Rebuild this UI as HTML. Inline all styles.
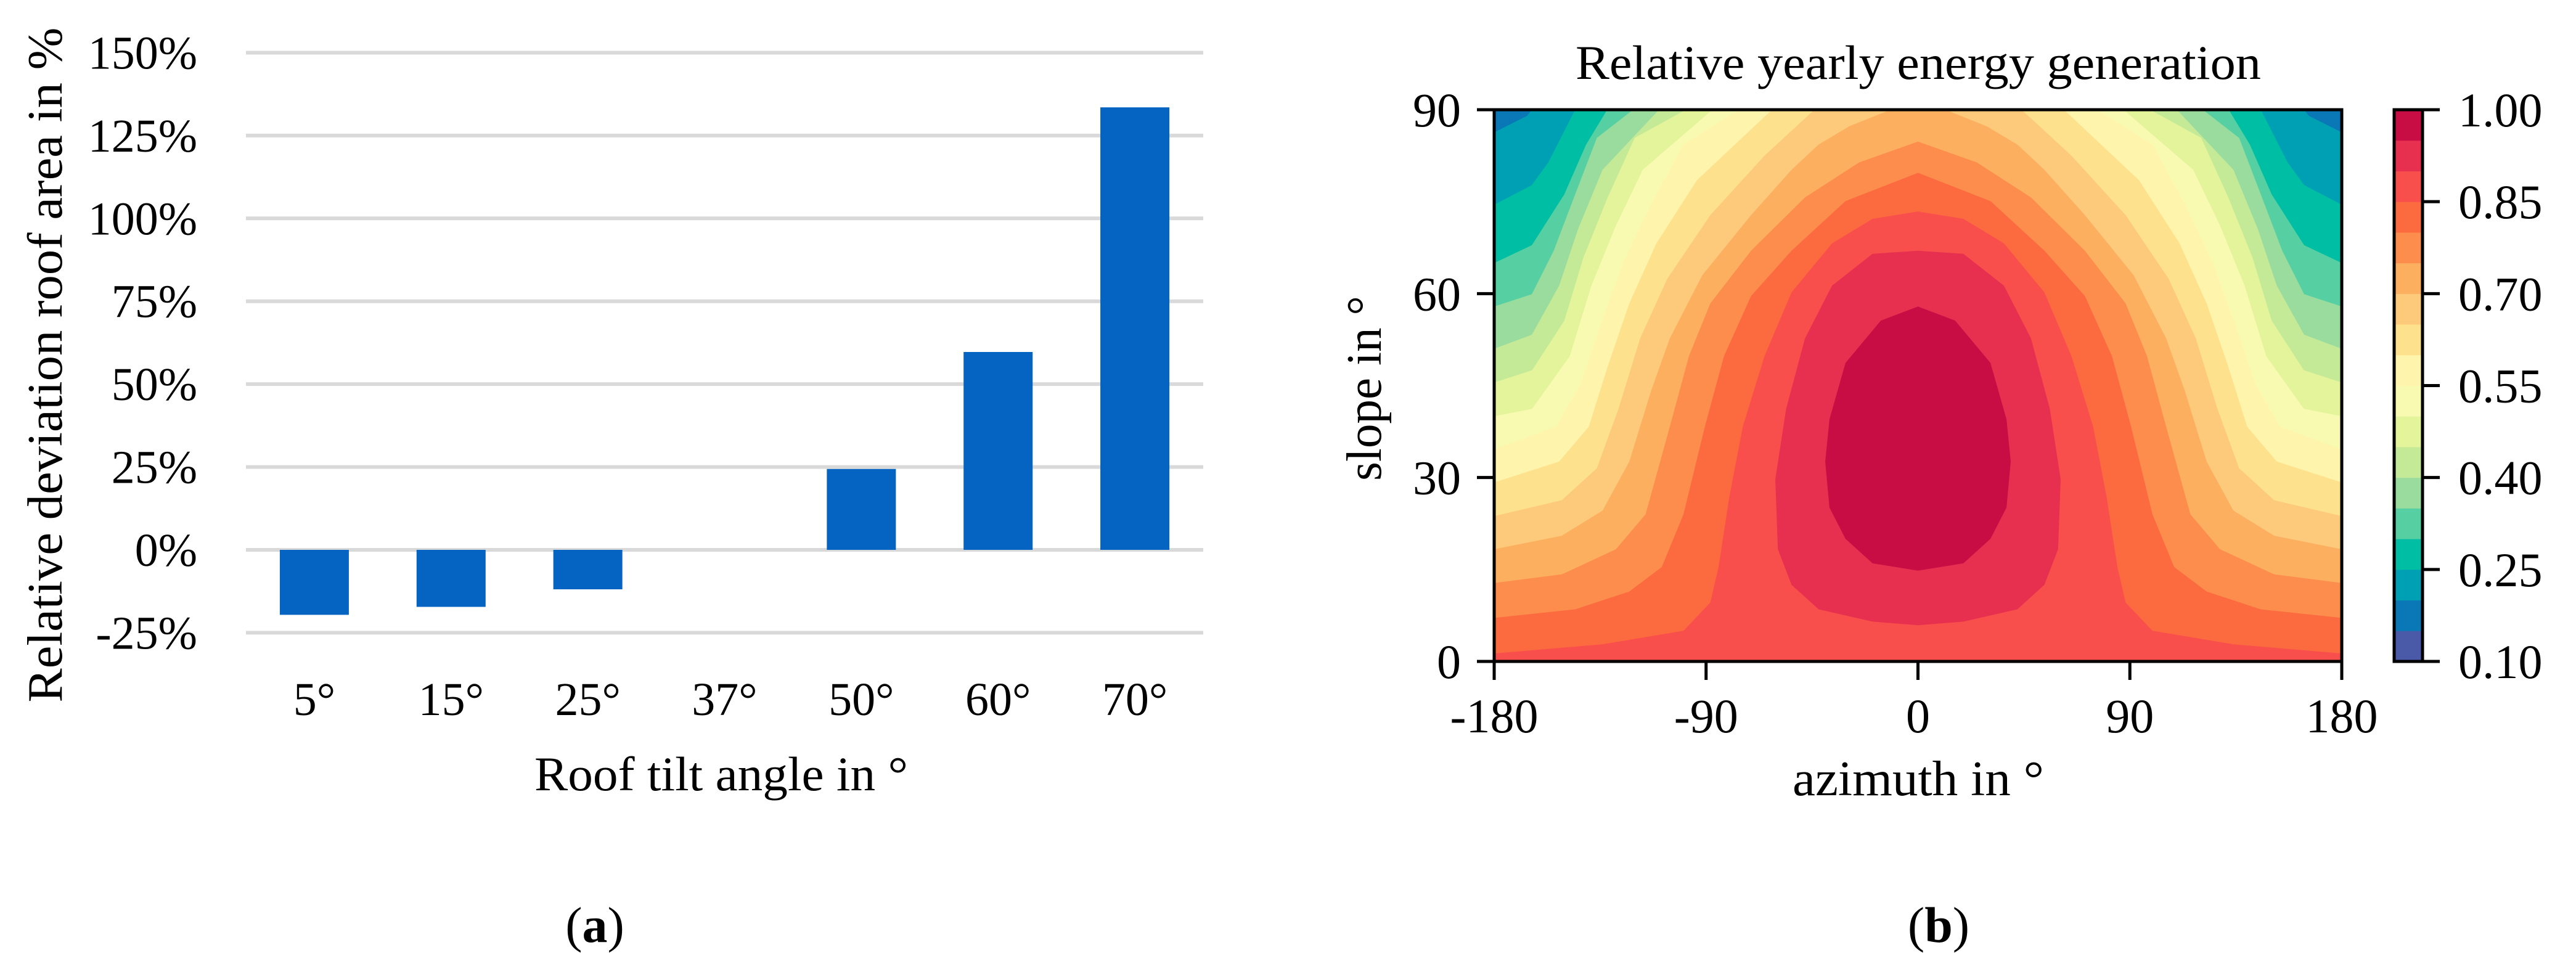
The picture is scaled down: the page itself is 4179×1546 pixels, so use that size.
<!DOCTYPE html>
<html><head><meta charset="utf-8"><style>
html,body{margin:0;padding:0;background:#fff;}
svg{display:block;font-family:"Liberation Serif",serif;}
</style></head><body>
<svg id="root" width="4179" height="1546" viewBox="0 0 4179 1546" xmlns="http://www.w3.org/2000/svg">
<rect width="4179" height="1546" fill="#fff"/>
<g id="barChart"></g>
<g id="contourChart"></g>
<text x="965" y="1528" font-size="82" text-anchor="middle">(<tspan font-weight="bold">a</tspan>)</text>
<text x="3145" y="1528" font-size="82" text-anchor="middle">(<tspan font-weight="bold">b</tspan>)</text>
</svg>
<script>
// ---------- Bar chart data ----------
const barCategories = ["5°","15°","25°","37°","50°","60°","70°"];
const barValues = [-19.6,-17.2,-11.9,0,24.4,59.7,133.5];
const barTicks = [-25,0,25,50,75,100,125,150];
const barTickLabels = ["-25%","0%","25%","50%","75%","100%","125%","150%"];

// ---------- Contour chart data ----------
const contourLevels = [0.2,0.25,0.3,0.35,0.4,0.45,0.5,0.55,0.6,0.65,0.7,0.75,0.8,0.85];
// left-half contour lines as [azimuth, slope] pairs (mirrored for right half)
const contour020 = [[-180,86.3],[-166,89],[-164,90]];
const contour025 = [[-180,74.5],[-164,77.7],[-157,81.4],[-145.6,90]];
const contour030 = [[-180,65],[-164,67.9],[-150.2,76.2],[-141,84.3],[-132,90]];
const contour035 = [[-180,57.9],[-164,59.9],[-154.7,67],[-145.6,76.2],[-136.4,85.4],[-121,90]];
const contour040 = [[-180,51],[-164,53.3],[-152.4,61.3],[-144.4,70.5],[-134,80.2],[-110,90]];
const contour045 = [[-180,45.5],[-163.9,47.5],[-150.2,55.6],[-142.1,65.9],[-131.8,75.7],[-120.3,85.4],[-98.6,90]];
const contour050 = [[-180,40],[-163.9,41.2],[-147.9,49.8],[-138.7,61.3],[-128.3,71.1],[-116.9,80.2],[-87.3,90]];
const contour055 = [[-180,34.6],[-153.6,38.3],[-143.3,45.2],[-134.1,55.6],[-124.9,65.3],[-113.4,74.5],[-99.6,84.3],[-76,90]];
const contour060 = [[-180,29.2],[-152.4,32.6],[-139.8,38.3],[-131.8,48.1],[-122.6,58.4],[-111.1,68.2],[-93.9,78.5],[-62,90]];
const contour065 = [[-180,23.7],[-151.3,26.3],[-136.4,31.5],[-127.2,41.2],[-118,52.7],[-106.5,62.4],[-88.2,72.8],[-65.2,82.5],[-44,90]];
const contour070 = [[-180,18.3],[-151.3,20.5],[-134,24.6],[-122.6,32.6],[-113.4,44.1],[-105.4,52.7],[-91.6,63],[-70.9,72.8],[-53.7,80.2],[-42.3,84.3],[-29.2,87.3],[-11.6,90]];
const contour075 = [[-180,12.8],[-151.3,14.2],[-128.3,18.3],[-115.7,24],[-105.4,38.3],[-97.3,49.8],[-88.2,58.4],[-70.9,67],[-48,75.7],[-25,81.4],[0,84.8]];
const contour080 = [[-180,7.1],[-145.6,8.5],[-122.6,11.4],[-108.8,15.4],[-99.6,24],[-90.5,38.3],[-82.4,49.8],[-70.9,59.6],[-53.7,67],[-30.8,75.1],[0,79.7]];
const contour085 = [[-180,1.3],[-134,2.8],[-99.6,5],[-88.2,9.6],[-84.7,15.4],[-80.1,26.9],[-74.4,38.3],[-65.2,49.8],[-53.7,60.2],[-36.5,68.2],[-19.3,72.2],[0,73.4]];
// closed contours (left half from top-centre to bottom-centre)
const contour090 = [[0,67],[-19.3,66.5],[-36.5,61.3],[-48,52.7],[-56,41.2],[-60.6,29.7],[-59.5,18.3],[-53.7,12.5],[-42.2,8.5],[-19.3,6.5],[0,5.9]];
const contour095 = [[0,57.9],[-15.8,55.6],[-30.8,48.7],[-37.6,39.5],[-39.4,32.6],[-37.6,25.1],[-30.8,20],[-19.3,16],[0,14.8]];
const xTicks = [-180,-90,0,90,180];
const yTicks = [0,30,60,90];
const cbTicks = [0.10,0.25,0.40,0.55,0.70,0.85,1.00];
const cbTickLabels = ["0.10","0.25","0.40","0.55","0.70","0.85","1.00"];
const bandColors = ["#4a5aa9","#0a78b6","#00a0b4","#00bea3","#56d0a2","#9adc9e","#c4ea98","#e4f49b","#f8fab2","#fff4ab","#fee18d","#fdc97a","#fdaf60","#fd8d4d","#fc6a3f","#f84f4c","#e7304f","#c80d44"];

const NS="http://www.w3.org/2000/svg";
function mk(tag, attrs, parent){const e=document.createElementNS(NS,tag);for(const k in attrs)e.setAttribute(k,attrs[k]);parent.appendChild(e);return e;}

// ---------- Bar chart ----------
(function(){
  const g=document.getElementById('barChart');
  const x0=399,x1=1952,band=(x1-x0)/barCategories.length,barW=112;
  const yv=v=>892-v*5.377;
  barTicks.forEach((t,i)=>{
    const l=mk('line',{x1:x0,x2:x1,y1:yv(t),y2:yv(t),stroke:'#d9d9d9','stroke-width':6},g);
    
    
    const tx=mk('text',{x:320,y:yv(t)+26,'font-size':76,'text-anchor':'end'},g);
    tx.textContent=barTickLabels[i];
    
    
  });
  barCategories.forEach((c,i)=>{
    const cx=x0+band*(i+0.5),v=barValues[i];
    if(v!==0){
      const r=mk('rect',{x:cx-barW/2,y:Math.min(yv(v),yv(0)),width:barW,height:Math.abs(yv(v)-yv(0)),fill:'#0563c1'},g);
      
      
    }
    const t=mk('text',{x:cx,y:1160,'font-size':76,'text-anchor':'middle'},g);
    t.textContent=c;
    
    
  });
  const xt=mk('text',{x:1170,y:1282,'font-size':78,'text-anchor':'middle',textLength:606,lengthAdjust:'spacingAndGlyphs'},g);
  xt.textContent='Roof tilt angle in °';
  
  
  const yt=mk('text',{x:0,y:0,'font-size':80,'text-anchor':'middle',transform:'translate(100,592) rotate(-90)',textLength:1095,lengthAdjust:'spacingAndGlyphs'},g);
  yt.textContent='Relative deviation roof area in %';
  
  
})();

// ---------- Contour chart ----------
(function(){
  const g=document.getElementById('contourChart');
  const L=2424,R=3799,T=178,B=1073;
  const xs=az=>L+(az+180)/360*(R-L);
  const ys=s=>B-s/90*(B-T);
  const defs=mk('defs',{},g);
  const cp=mk('clipPath',{id:'plotClip'},defs);
  mk('rect',{x:L,y:T,width:R-L,height:B-T},cp);
  const cg=mk('g',{'clip-path':'url(#plotClip)'},g);
  const base=mk('rect',{x:L,y:T,width:R-L,height:B-T,fill:bandColors[1]},cg);
  
  
  const openLines=[contour020,contour025,contour030,contour035,contour040,contour045,contour050,contour055,contour060,contour065,contour070,contour075,contour080,contour085];
  const toPts=arr=>arr.map(p=>xs(p[0]).toFixed(1)+','+ys(p[1]).toFixed(1)).join(' ');
  openLines.forEach((line,i)=>{
    const mirror=line.slice().reverse().map(p=>[-p[0],p[1]]);
    const pts=line.concat(mirror,[[180,-2],[-180,-2]]);
    const p=mk('polygon',{points:toPts(pts),fill:bandColors[i+2]},cg);
    
    
  });
  [[contour090,16,'0.9'],[contour095,17,'0.95']].forEach(([line,ci,lv])=>{
    const mirror=line.slice().reverse().map(p=>[-p[0],p[1]]);
    const p=mk('polygon',{points:toPts(line.concat(mirror)),fill:bandColors[ci]},cg);
    
    
  });
  const fr=mk('rect',{x:L,y:T,width:R-L,height:B-T,fill:'none',stroke:'#000','stroke-width':5},g);
  
  
  xTicks.forEach(t=>{
    const l=mk('line',{x1:xs(t),x2:xs(t),y1:B,y2:B+30,stroke:'#000','stroke-width':5},g);
    
    
    const tx=mk('text',{x:xs(t),y:1188,'font-size':78,'text-anchor':'middle'},g);
    tx.textContent=String(t);
    
    
  });
  yTicks.forEach(t=>{
    const l=mk('line',{x1:L-28,x2:L,y1:ys(t),y2:ys(t),stroke:'#000','stroke-width':5},g);
    
    
    const tx=mk('text',{x:2370,y:ys(t)+27,'font-size':78,'text-anchor':'end'},g);
    tx.textContent=String(t);
    
    
  });
  const tt=mk('text',{x:3112,y:128,'font-size':78,'text-anchor':'middle',textLength:1112,lengthAdjust:'spacingAndGlyphs'},g);
  tt.textContent='Relative yearly energy generation';
  
  
  const xt=mk('text',{x:3112,y:1290,'font-size':80,'text-anchor':'middle',textLength:408,lengthAdjust:'spacingAndGlyphs'},g);
  xt.textContent='azimuth in °';
  
  
  const yt=mk('text',{x:0,y:0,'font-size':80,'text-anchor':'middle',transform:'translate(2240,630) rotate(-90)',textLength:300,lengthAdjust:'spacingAndGlyphs'},g);
  yt.textContent='slope in °';
  
  
  // colorbar
  const cx0=3884,cx1=3930;
  const cy=v=>B-(v-0.1)/0.9*(B-T);
  bandColors.forEach((c,i)=>{
    const lo=0.1+i*0.05,hi=lo+0.05;
    const r=mk('rect',{x:cx0,y:cy(hi),width:cx1-cx0,height:cy(lo)-cy(hi)+0.5,fill:c},g);
    
    
  });
  const cf=mk('rect',{x:cx0,y:T,width:cx1-cx0,height:B-T,fill:'none',stroke:'#000','stroke-width':5},g);
  
  
  cbTicks.forEach((t,i)=>{
    const l=mk('line',{x1:cx1,x2:cx1+28,y1:cy(t),y2:cy(t),stroke:'#000','stroke-width':5},g);
    
    
    const tx=mk('text',{x:3988,y:cy(t)+27,'font-size':78},g);
    tx.textContent=cbTickLabels[i];
    
    
  });
})();
</script>
</body></html>
